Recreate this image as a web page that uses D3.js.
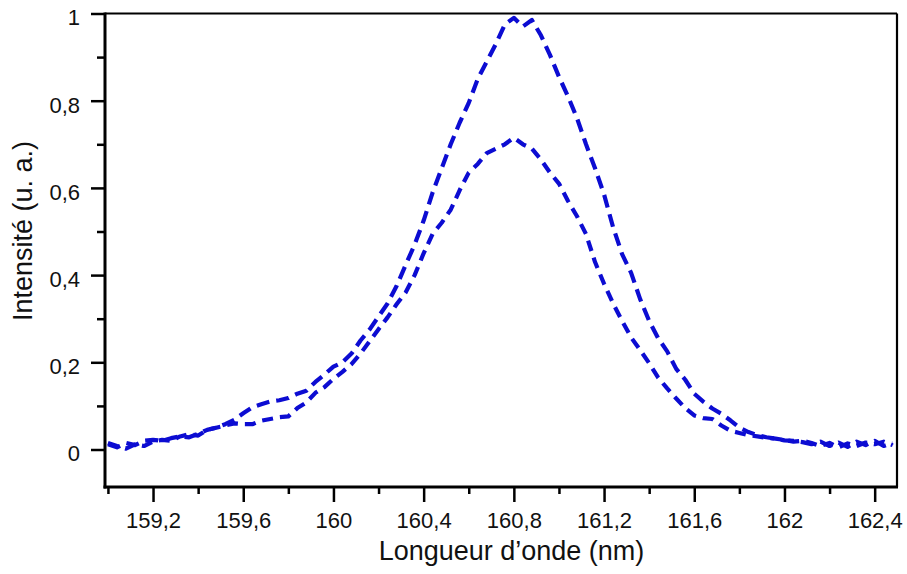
<!DOCTYPE html>
<html>
<head>
<meta charset="utf-8">
<script src="https://cdn.jsdelivr.net/npm/d3@7/dist/d3.min.js"></script>
<style>
  html, body { margin: 0; padding: 0; background: #fff; }
  svg { display: block; }
  text { font-family: "Liberation Sans", Arial, sans-serif; fill: #111; }
</style>
</head>
<body>
<svg id="chart" width="907" height="574"></svg>
<script>
// ---- data ----
const wavelengths = [
  159.00,159.04,159.08,159.12,159.16,159.20,159.24,159.28,159.32,159.36,
  159.40,159.44,159.48,159.52,159.56,159.60,159.64,159.68,159.72,159.76,
  159.80,159.84,159.88,159.92,159.96,160.00,160.04,160.08,160.12,160.16,
  160.20,160.24,160.28,160.32,160.36,160.40,160.44,160.48,160.52,160.56,
  160.60,160.64,160.68,160.72,160.76,160.80,160.84,160.88,160.92,160.96,
  161.00,161.04,161.08,161.12,161.16,161.20,161.24,161.28,161.32,161.36,
  161.40,161.44,161.48,161.52,161.56,161.60,161.64,161.68,161.72,161.76,
  161.80,161.84,161.88,161.92,161.96,162.00,162.04,162.08,162.12,162.16,
  162.20,162.24,162.28,162.32,162.36,162.40,162.44,162.48
];
const intensityHigh = [
  0.012,0.005,0.015,0.010,0.020,0.022,0.020,0.026,0.030,0.028,
  0.036,0.045,0.050,0.058,0.068,0.083,0.097,0.104,0.110,0.113,
  0.118,0.128,0.135,0.155,0.172,0.190,0.200,0.220,0.250,0.275,
  0.305,0.335,0.375,0.423,0.470,0.525,0.590,0.645,0.700,0.750,
  0.795,0.850,0.890,0.930,0.975,0.990,0.970,0.985,0.950,0.905,
  0.855,0.810,0.760,0.700,0.645,0.585,0.510,0.448,0.405,0.345,
  0.295,0.255,0.225,0.185,0.160,0.128,0.110,0.094,0.082,0.067,
  0.050,0.040,0.033,0.028,0.025,0.021,0.020,0.017,0.012,0.018,
  0.008,0.016,0.006,0.018,0.010,0.020,0.008,0.015
];
const intensityLow = [
  0.015,0.008,0.002,0.012,0.008,0.018,0.022,0.020,0.030,0.035,
  0.032,0.045,0.050,0.055,0.060,0.058,0.058,0.066,0.070,0.074,
  0.076,0.095,0.108,0.130,0.143,0.162,0.178,0.196,0.220,0.248,
  0.276,0.303,0.333,0.360,0.400,0.450,0.495,0.520,0.550,0.595,
  0.635,0.655,0.680,0.690,0.700,0.715,0.700,0.690,0.665,0.635,
  0.610,0.570,0.535,0.494,0.430,0.380,0.335,0.295,0.257,0.228,
  0.198,0.165,0.140,0.117,0.095,0.078,0.072,0.070,0.055,0.043,
  0.038,0.033,0.030,0.027,0.025,0.022,0.018,0.020,0.015,0.008,
  0.015,0.005,0.014,0.008,0.016,0.012,0.018,0.010
];
const xMajorTicks = [159.2, 159.6, 160, 160.4, 160.8, 161.2, 161.6, 162, 162.4];
const xMinorTicks = [159.0, 159.4, 159.8, 160.2, 160.6, 161.0, 161.4, 161.8, 162.2];
const yMajorTicks = [0, 0.2, 0.4, 0.6, 0.8, 1];
const yMinorTicks = [0.1, 0.3, 0.5, 0.7, 0.9];
const xTitle = "Longueur d\u2019onde (nm)";
const yTitle = "Intensit\u00e9 (u. a.)";

// ---- layout ----
const L = 105, R = 897, T = 13.5, B = 487;
const svg = d3.select("#chart");
const x = d3.scaleLinear().domain([158.987, 162.499]).range([L, R]);
const y = d3.scaleLinear().domain([-0.086, 1]).range([B, T]);
const fmt = d3.formatLocale({decimal: ",", thousands: " ", grouping: [3], currency: ["", ""]}).format("~g");

svg.append("defs").append("clipPath").attr("id", "clip")
  .append("rect").attr("x", L).attr("y", T).attr("width", R - L).attr("height", B - T);

// curves
const line = d3.line().x((d, i) => x(wavelengths[i])).y(d => y(d));
const color = "#0c0cd2";
[[intensityLow, "11,7"], [intensityHigh, "13,7"]].forEach(([vals, dash]) => {
  svg.append("path")
    .datum(vals)
    .attr("clip-path", "url(#clip)")
    .attr("d", line)
    .attr("fill", "none")
    .attr("stroke", color)
    .attr("stroke-width", 4.2)
    .attr("stroke-dasharray", dash)
    .attr("stroke-linejoin", "round");
});

// axes
const fs = 22;
const xAxis = svg.append("g").attr("transform", `translate(0,${B})`)
  .call(d3.axisBottom(x).tickValues(xMajorTicks).tickSize(15).tickPadding(10).tickFormat(fmt));
const xMinor = svg.append("g").attr("transform", `translate(0,${B})`)
  .call(d3.axisBottom(x).tickValues(xMinorTicks).tickSize(7).tickFormat(""));
const yAxis = svg.append("g").attr("transform", `translate(${L},0)`)
  .call(d3.axisLeft(y).tickValues(yMajorTicks).tickSize(14).tickPadding(11).tickFormat(fmt));
const yMinor = svg.append("g").attr("transform", `translate(${L},0)`)
  .call(d3.axisLeft(y).tickValues(yMinorTicks).tickSize(8).tickFormat(""));

[xAxis, xMinor, yAxis, yMinor].forEach(g => {
  g.select(".domain").remove();
  g.selectAll(".tick line").attr("stroke", "#000").attr("stroke-width", 2.5);
  g.selectAll(".tick text").attr("font-size", fs)
    .attr("font-family", "'Liberation Sans', Arial, sans-serif").attr("fill", "#111");
});
yAxis.selectAll(".tick text").attr("dy", "0.52em");

// frame
svg.append("line").attr("x1", L).attr("x2", R).attr("y1", T).attr("y2", T)
  .attr("stroke", "#000").attr("stroke-width", 2.2);
svg.append("line").attr("x1", R).attr("x2", R).attr("y1", T).attr("y2", B)
  .attr("stroke", "#000").attr("stroke-width", 2.2);
svg.append("line").attr("x1", L).attr("x2", L).attr("y1", T - 1).attr("y2", B + 1.5)
  .attr("stroke", "#000").attr("stroke-width", 3);
svg.append("line").attr("x1", L - 1.5).attr("x2", R + 1).attr("y1", B).attr("y2", B)
  .attr("stroke", "#000").attr("stroke-width", 3);

// titles
svg.append("text")
  .attr("x", (381 + 642) / 2).attr("y", 560)
  .attr("text-anchor", "middle").attr("font-size", 27)
  .text(xTitle);
svg.append("text")
  .attr("transform", "translate(32,231) rotate(-90)")
  .attr("text-anchor", "middle").attr("font-size", 27)
  .text(yTitle);
</script>
</body>
</html>
